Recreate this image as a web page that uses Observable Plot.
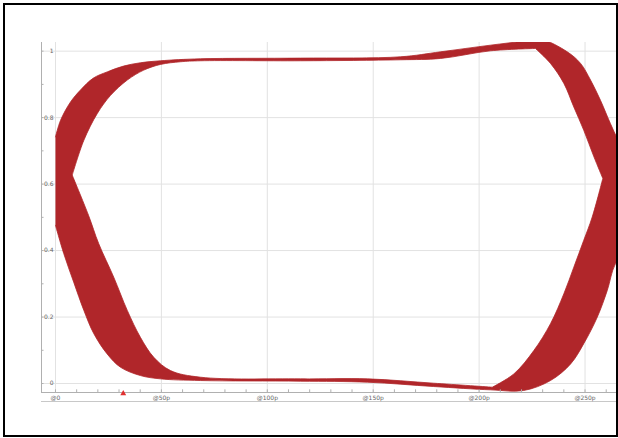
<!DOCTYPE html>
<html><head><meta charset="utf-8">
<script src="https://cdn.jsdelivr.net/npm/d3@7"></script>
<script src="https://cdn.jsdelivr.net/npm/@observablehq/plot@0.6"></script>
<style>
html,body{margin:0;padding:0;background:#fff;}
#wrap{position:relative;width:618px;height:438px;overflow:hidden;font-family:"DejaVu Sans",sans-serif;}
#border{position:absolute;left:3px;top:3px;width:611px;height:430px;border:2px solid #000;pointer-events:none;}
svg{display:block;}
</style></head><body>
<div id="wrap"><div id="chart"></div><div id="border"></div></div>
<script>
// Eye envelope, outer boundary (time in ps, voltage)
const outerT = [0, 2.4, 7.1, 11.8, 17.9, 24.6, 32.1, 40.1, 49.6, 68.5, 115.7, 162.9, 181.8, 205.4, 221, 229,
  241.6, 247.9, 252.6, 257.3, 262, 265.8, 275, 275,
  264.4, 260.5, 255.8, 249.4, 243.2, 233.7, 221, 205.4, 178.5, 147.3, 115.7, 68.5,
  49.6, 40.1, 30.7, 24.4, 18.1, 13.4, 8.6, 3.9, 0];
const outerV = [0.742, 0.792, 0.847, 0.883, 0.919, 0.938, 0.955, 0.965, 0.971, 0.977, 0.979, 0.983, 0.998, 1.018, 1.030, 1.036,
  0.998, 0.963, 0.913, 0.852, 0.782, 0.732, 0.65, 0.45,
  0.361, 0.280, 0.200, 0.120, 0.059, 0.009, -0.021, -0.019, -0.009, 0.004, 0.007, 0.009,
  0.014, 0.024, 0.049, 0.089, 0.150, 0.220, 0.305, 0.391, 0.476];
// Eye opening, inner boundary (corner points repeated to keep them sharp)
const innerT = [7.9, 7.9, 13.4, 19.7, 26, 33.9, 41.7, 49.6, 59, 68.5, 115.7, 162.9, 181.8, 205.4, 226.6, 226.6,
  233.7, 240, 244.7, 249.4, 254.2, 258.4, 258.4,
  253.4, 249.4, 244.7, 240, 233.7, 225.8, 216.4, 206.2, 206.2,
  178.5, 147.3, 115.7, 68.5,
  54.3, 46.4, 40.1, 33.9, 27.5, 20.4, 15.6, 7.9];
const innerV = [0.627, 0.627, 0.732, 0.812, 0.867, 0.913, 0.943, 0.960, 0.968, 0.971, 0.971, 0.974, 0.978, 1.001, 1.008, 1.008,
  0.963, 0.903, 0.832, 0.762, 0.682, 0.617, 0.617,
  0.501, 0.431, 0.350, 0.270, 0.180, 0.099, 0.029, -0.011, -0.011,
  0.001, 0.014, 0.014, 0.019,
  0.039, 0.079, 0.139, 0.220, 0.320, 0.421, 0.506, 0.627];

const yTicks = [0, 0.2, 0.4, 0.6, 0.8, 1];
const yTickLabels = ["0", "0.2", "0.4", "0.6", "0.8", "1"];
const yMinor = [0, 0.1, 0.2, 0.3, 0.4, 0.5, 0.6, 0.7, 0.8, 0.9, 1];
const xTicks = [0, 50, 100, 150, 200, 250];
const xTickLabels = ["@0", "@50p", "@100p", "@150p", "@200p", "@250p"];
const xMinor = [0, 10, 20, 30, 40, 50, 60, 70, 80, 90, 100, 110, 120, 130, 140, 150, 160, 170, 180, 190, 200, 210, 220, 230, 240, 250, 260];
const cursorT = [32];

const xMin = -6.6, xMax = 265.8, yMin = -0.027, yMax = 1.026;

const ring = [];
outerT.forEach((t, i) => ring.push({t, v: outerV[i]}));
ring.push({t: NaN, v: NaN});
for (let i = innerT.length - 1; i >= 0; i--) ring.push({t: innerT[i], v: innerV[i]});

const red = "#b0262a";
const plot = Plot.plot({
  width: 618, height: 438,
  marginLeft: 41, marginRight: 0, marginTop: 42, marginBottom: 46,
  x: {domain: [xMin, xMax], axis: null},
  y: {domain: [yMin, yMax], axis: null},
  style: {background: "white", fontFamily: "DejaVu Sans, sans-serif"},
  marks: [
    Plot.ruleY(yTicks, {stroke: "#e2e2e2", strokeWidth: 1}),
    Plot.ruleX(xTicks, {stroke: "#e2e2e2", strokeWidth: 1}),
    Plot.line(ring, {x: "t", y: "v", curve: "catmull-rom", fill: red, stroke: red, strokeWidth: 0.8, clip: true}),
    Plot.ruleY([yMin], {stroke: "#b0b0b0"}),
    Plot.ruleY([yMin], {stroke: "#c8c8c8", dy: 9}),
    Plot.ruleX([xMin], {stroke: "#b0b0b0"}),
    Plot.ruleX(xMinor, {y1: yMin, y2: yMin + 0.008, stroke: "#b0b0b0"}),
    Plot.ruleY(yMinor, {x1: xMin, x2: xMin + 1.2, stroke: "#b0b0b0"}),
    Plot.text(yTicks, {x: xMin, y: d => d, text: (d, i) => yTickLabels[i], dx: 12, textAnchor: "end", fontSize: 6, fill: "#666"}),
    Plot.text(xTicks, {x: d => d, y: yMin, dy: 6, text: (d, i) => xTickLabels[i], fontSize: 6, fill: "#666"}),
    Plot.dot(cursorT, {x: d => d, y: yMin, dy: 1, symbol: "triangle", r: 2.2, fill: "#e03030", stroke: "none"})
  ]
});
plot.querySelectorAll('g[aria-label="line"] path').forEach(p => p.setAttribute("fill-rule", "evenodd"));
document.getElementById("chart").appendChild(plot);
</script>
</body></html>
